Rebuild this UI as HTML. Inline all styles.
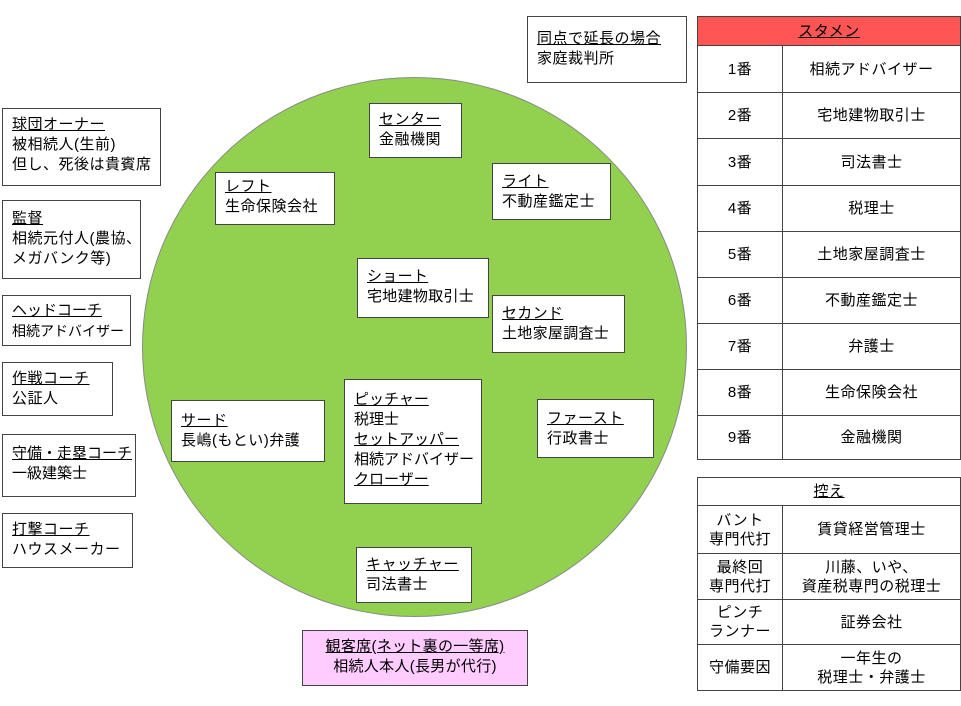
<!DOCTYPE html>
<html><head><meta charset="utf-8"><style>
body{margin:0;width:961px;height:706px;background:#fff;position:relative;overflow:hidden;font-family:"Liberation Sans","Noto Sans CJK JP",sans-serif;font-size:15px;letter-spacing:0.5px;color:#000}
.b{position:absolute;background:#fff;border:1.5px solid #444;box-sizing:border-box;padding:6px 0 0 9px;line-height:20px;white-space:nowrap}
u{text-decoration:underline}
.ell{position:absolute;left:142px;top:77px;width:545px;height:540px;border-radius:50%;background:#92d050;border:1px solid #8a8a8a;box-sizing:border-box}
table{position:absolute;border-collapse:collapse;left:697px;width:264px}
td{border:1.5px solid #444;text-align:center;line-height:19px;padding:0}
td.l{width:84px}
</style></head><body>
<div class="ell"></div>
<div class="b" style="left:527px;top:16px;width:160px;height:67px;padding-top:12px"><u>同点で延長の場合</u><br>家庭裁判所</div>
<div class="b" style="left:2px;top:108px;width:159px;height:78px"><u>球団オーナー</u><br>被相続人(生前)<br>但し、死後は貴賓席</div>
<div class="b" style="left:2px;top:200px;width:139px;height:79px;padding-top:8px"><u>監督</u><br>相続元付人(農協、<br>メガバンク等)</div>
<div class="b" style="left:2px;top:295px;width:129px;height:51px;padding-top:4px;font-size:14px;letter-spacing:0"><u style="font-size:15px">ヘッドコーチ</u><br>相続アドバイザー</div>
<div class="b" style="left:2px;top:362px;width:111px;height:54px;padding-top:6px"><u>作戦コーチ</u><br>公証人</div>
<div class="b" style="left:2px;top:434px;width:134px;height:63px;padding-top:9px;letter-spacing:0"><u>守備・走塁コーチ</u><br>一級建築士</div>
<div class="b" style="left:2px;top:513px;width:131px;height:55px;padding-top:6px"><u>打撃コーチ</u><br>ハウスメーカー</div>
<div class="b" style="left:369px;top:103px;width:93px;height:55px;padding-top:6px"><u>センター</u><br>金融機関</div>
<div class="b" style="left:215px;top:172px;width:120px;height:53px;padding-top:4px"><u>レフト</u><br>生命保険会社</div>
<div class="b" style="left:492px;top:163px;width:119px;height:57px;padding-top:8px"><u>ライト</u><br>不動産鑑定士</div>
<div class="b" style="left:357px;top:258px;width:132px;height:60px;padding-top:8px;letter-spacing:0.3px"><u>ショート</u><br>宅地建物取引士</div>
<div class="b" style="left:492px;top:295px;width:133px;height:58px;padding-top:8px;letter-spacing:0.3px"><u>セカンド</u><br>土地家屋調査士</div>
<div class="b" style="left:344px;top:379px;width:138px;height:125px;padding-top:10px;letter-spacing:0"><u>ピッチャー</u><br>税理士<br><u>セットアッパー</u><br>相続アドバイザー<br><u>クローザー</u></div>
<div class="b" style="left:171px;top:400px;width:154px;height:62px;padding-top:10px"><u>サード</u><br>長嶋(もとい)弁護</div>
<div class="b" style="left:537px;top:399px;width:117px;height:59px;padding-top:9px"><u>ファースト</u><br>行政書士</div>
<div class="b" style="left:356px;top:547px;width:116px;height:56px;padding-top:7px"><u>キャッチャー</u><br>司法書士</div>
<div class="b" style="left:302px;top:630px;width:226px;height:56px;padding:6px 0 0 0;text-align:center;background:#ffccff;letter-spacing:0.3px"><u>観客席(ネット裏の一等席)</u><br>相続人本人(長男が代行)</div>
<table style="top:16px">
<tr style="height:29px"><td colspan="2" style="background:#ff5555"><u>スタメン</u></td></tr>
<tr style="height:47px"><td class="l">1番</td><td>相続アドバイザー</td></tr>
<tr style="height:46px"><td class="l">2番</td><td>宅地建物取引士</td></tr>
<tr style="height:47px"><td class="l">3番</td><td>司法書士</td></tr>
<tr style="height:46px"><td class="l">4番</td><td>税理士</td></tr>
<tr style="height:46px"><td class="l">5番</td><td>土地家屋調査士</td></tr>
<tr style="height:46px"><td class="l">6番</td><td>不動産鑑定士</td></tr>
<tr style="height:46px"><td class="l">7番</td><td>弁護士</td></tr>
<tr style="height:46px"><td class="l">8番</td><td>生命保険会社</td></tr>
<tr style="height:44px"><td class="l">9番</td><td>金融機関</td></tr>
</table>
<table style="top:477px">
<tr style="height:28px"><td colspan="2"><u>控え</u></td></tr>
<tr style="height:48px"><td class="l">バント<br>専門代打</td><td>賃貸経営管理士</td></tr>
<tr style="height:46px"><td class="l">最終回<br>専門代打</td><td>川藤、いや、<br>資産税専門の税理士</td></tr>
<tr style="height:45px"><td class="l">ピンチ<br>ランナー</td><td>証券会社</td></tr>
<tr style="height:46px"><td class="l">守備要因</td><td>一年生の<br>税理士・弁護士</td></tr>
</table>
</body></html>
